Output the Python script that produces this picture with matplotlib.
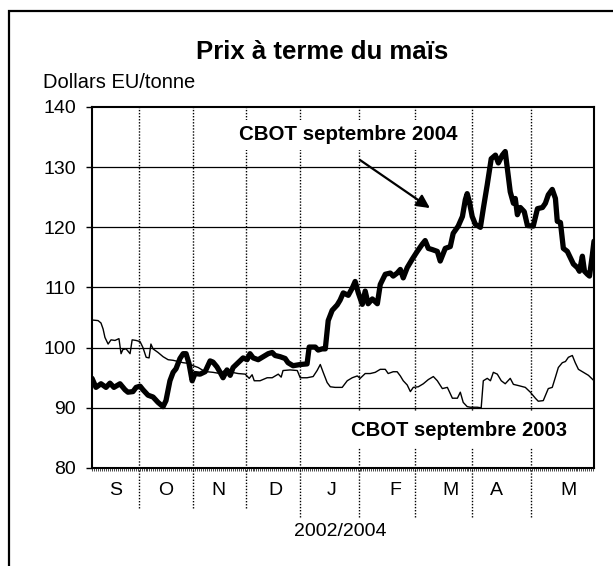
import matplotlib.pyplot as plt
from matplotlib.patches import Rectangle
import numpy as np

plt.rcParams['font.family'] = ['Liberation Sans', 'DejaVu Sans']

# x is a trading-day index from early September 2003 (0) to early June 2004 (190)
t_2004 = [0, 1.5, 3.4, 5.3, 6.8, 8.3, 10.6, 12.5, 13.6, 15.5, 16.7, 18.2, 19.3, 21.2,
          23.1, 25, 26.9, 28, 29.5, 30.7, 31.8, 33.3, 34.5, 35.6, 36.7, 37.9, 39, 40.9,
          42.8, 44.7, 45.8, 47.3, 48.5, 49.6, 51.1, 52.3, 53.4, 55.3, 57.2, 58.7, 59.8,
          61, 62.9, 64.8, 66.7, 68.2, 69.3, 71.2, 73.1, 74.2, 76.1, 78.8, 81.4, 82.2,
          84.5, 85.6, 87.1, 88.3, 89.4, 90.9, 92.8, 93.9, 95.1, 97, 98.5, 99.6, 100.8,
          102.3, 103.4, 104.5, 106.1, 108, 109.1, 111, 112.9, 114, 115.5, 116.7, 117.8,
          119.3, 121.2, 123.1, 125, 126.1, 127.3, 128.8, 130.7, 131.8, 133.7, 135.6,
          136.7, 138.6, 140.2, 141.3, 142, 142.8, 143.9, 145.1, 147, 148.1, 149.6,
          151.1, 152.7, 153.8, 155.3, 156.4, 157.2, 158.3, 159.5, 160.2, 161, 162.1,
          163.6, 164.8, 167, 168.6, 170.5, 171.6, 172.7, 174.2, 175.4, 176.1, 177.3,
          178.4, 179.9, 181.1, 182.2, 183.7, 184.5, 185.6, 186.4, 187.5, 188.3, 189.4,
          190]
cbot_2004 = [94.9, 93.4, 94.0, 93.4, 94.1, 93.4, 94.0, 93.0, 92.6, 92.7, 93.4, 93.6, 93.0,
             92.1, 91.8, 90.9, 90.2, 91.2, 94.5, 95.9, 96.5, 98.2, 99.0, 99.0, 97.4, 94.5,
             95.7, 95.6, 96.0, 97.8, 97.6, 96.8, 95.9, 95.0, 96.3, 95.4, 96.7, 97.5, 98.3,
             98.0, 99.0, 98.3, 98.0, 98.5, 99.0, 99.2, 98.7, 98.5, 98.2, 97.5, 97.0, 97.2,
             97.3, 100.1, 100.1, 99.6, 99.8, 99.8, 104.5, 106.2, 107.1, 107.9, 109.1, 108.7,
             109.9, 111.0, 109.1, 107.2, 109.4, 107.3, 108.1, 107.3, 110.5, 112.2, 112.4,
             111.9, 112.4, 113.0, 111.6, 113.3, 114.7, 116.0, 117.2, 117.8, 116.5, 116.3,
             116.0, 114.4, 116.5, 116.8, 119.0, 120.2, 121.8, 124.6, 125.6, 124.3, 121.8,
             120.5, 120.0, 123.1, 127.1, 131.4, 132.0, 130.7, 132.0, 132.6, 129.8, 125.9,
             124.0, 124.8, 122.1, 123.3, 122.6, 120.3, 120.2, 123.1, 123.3, 124.0, 125.4,
             126.3, 124.8, 121.0, 120.8, 116.5, 116.0, 114.9, 113.9, 113.3, 112.7, 115.2,
             112.7, 112.2, 111.9, 115.5, 117.7]

t_2003 = [0, 2.3, 3.4, 4.2, 4.9, 6.1, 7.2, 8.7, 10.2, 11, 11.7, 12.9, 14.4, 15.2, 16.7,
          18.2, 19.3, 20.5, 21.6, 22.3, 23.1, 25, 26.9, 28.8, 30.7, 32.6, 34.5, 36.4,
          38.3, 40.2, 41.7, 43.6, 45.8, 48.5, 51.1, 53, 55.3, 58, 59.5, 60.6, 61.4, 63.6,
          66.3, 68.2, 70.5, 71.6, 72.3, 75, 77.7, 78.8, 81.4, 83.7, 85.2, 86.4, 87.5, 89,
          90.2, 92, 94.7, 96.6, 98.5, 100.4, 101.5, 103.4, 105.3, 107.2, 109.1, 111,
          112.1, 114, 115.5, 116.7, 117.8, 119.3, 120.5, 121.6, 123.5, 125.4, 127.3,
          129.2, 130.7, 132.6, 134.5, 136.4, 138.3, 139.4, 140.5, 142, 143.2, 145.8,
          147.3, 148.1, 149.6, 150.8, 151.9, 153.4, 154.9, 156.4, 158.3, 159.5, 161.4,
          164, 165.9, 167.8, 168.9, 170.8, 172.7, 174.2, 175.4, 176.5, 178, 179.2, 180.3,
          181.8, 182.9, 184.1, 186, 187.9, 190]
cbot_2003 = [104.6, 104.5, 104.1, 103.1, 101.7, 100.6, 101.3, 101.2, 101.5, 99.0, 99.7,
             99.8, 99.0, 101.3, 101.2, 101.0, 100.0, 98.4, 98.3, 100.6, 99.8, 99.2, 98.5,
             98.0, 97.9, 97.7, 97.5, 97.4, 97.0, 96.7, 96.3, 96.0, 95.9, 95.7, 96.5, 95.9,
             95.7, 95.6, 94.9, 95.5, 94.5, 94.5, 95.0, 95.0, 95.6, 95.1, 96.2, 96.3, 96.2,
             95.0, 95.0, 95.2, 96.2, 97.2, 95.9, 94.2, 93.5, 93.4, 93.4, 94.5, 95.0, 95.3,
             94.9, 95.7, 95.7, 95.9, 96.4, 96.4, 95.7, 96.0, 96.0, 95.3, 94.5, 93.8, 92.7,
             93.4, 93.5, 94.0, 94.7, 95.2, 94.5, 93.2, 93.4, 91.6, 91.6, 92.6, 90.9, 90.2,
             90.1, 90.1, 90.0, 94.5, 94.9, 94.5, 95.9, 95.6, 94.5, 94.0, 94.9, 93.9, 93.7,
             93.4, 92.6, 91.6, 91.1, 91.2, 93.2, 93.4, 95.1, 96.7, 97.5, 97.7, 98.4, 98.7,
             97.5, 96.4, 95.9, 95.4, 94.5]

month_edges = [17.8, 38.4, 58.1, 78.9, 100.9, 122.1, 144.0, 166.0]
month_labels = ['S', 'O', 'N', 'D', 'J', 'F', 'M', 'A', 'M']
month_label_pos = [9.1, 28.0, 47.7, 69.3, 90.5, 114.7, 135.5, 152.9, 180.5]

fig = plt.figure(figsize=(6.13, 5.66), dpi=100)
W, H = 613, 566

# outer frame (runs off the right and bottom edges, as in the original)
fig.patches.append(Rectangle((9 / W, -0.05), 1.2, 1 - 11 / H + 0.05, transform=fig.transFigure,
                             fill=False, edgecolor='black', linewidth=1.6))

ax = fig.add_axes([92 / W, 1 - 468 / H, 502 / W, 361 / H])
ax.set_xlim(0, 190)
ax.set_ylim(80, 140)

for yv in range(90, 140, 10):
    ax.axhline(yv, color='black', linewidth=0.9, zorder=1)

# dotted month separators, extending below the axis
xtr = ax.get_xaxis_transform()
for i, xe in enumerate(month_edges):
    low = -0.11 if i < 3 else -0.135
    ax.plot([xe, xe], [low, 1], transform=xtr, clip_on=False, color='black',
            linewidth=1.0, linestyle=(0, (1, 1.2)), zorder=1)

ax.plot(t_2003, cbot_2003, color='black', linewidth=1.0, zorder=3)
ax.plot(t_2004, cbot_2004, color='black', linewidth=3.8, solid_joinstyle='round',
        solid_capstyle='round', zorder=4)

ax.text(96.9, 135.4, 'CBOT septembre 2004', ha='center', va='center', fontsize=14.8,
        fontweight='bold', zorder=5,
        bbox=dict(facecolor='white', edgecolor='none', pad=4))
ax.annotate('', xy=(127.9, 123.2), xytext=(101.4, 131.2),
            arrowprops=dict(arrowstyle='-|>', color='black', lw=1.6, mutation_scale=20,
                            shrinkA=0, shrinkB=0), zorder=5)
ax.text(138.9, 86.3, 'CBOT septembre 2003', ha='center', va='center', fontsize=14.6,
        fontweight='bold', zorder=5,
        bbox=dict(facecolor='white', edgecolor='none', pad=6))

for sp in ax.spines.values():
    sp.set_linewidth(1.5)
    sp.set_zorder(6)

ax.set_yticks(range(80, 141, 10))
ax.tick_params(axis='y', direction='out', length=4.5, width=1.0, pad=7, labelsize=14)
ax.set_xticks([])
ax.set_xticks(np.arange(0, 190.5, 0.75), minor=True)
ax.tick_params(axis='x', which='minor', direction='out', length=2.2, width=0.5)

for lab, xp in zip(month_labels, month_label_pos):
    ax.text(xp, -0.061, lab, transform=xtr, ha='center', va='center', fontsize=14)
ax.text(93.9, -0.177, '2002/2004', transform=xtr, ha='center', va='center', fontsize=14)

fig.text(322 / W, 1 - 52 / H, 'Prix à terme du maïs', ha='center', va='center',
         fontsize=18.5, fontweight='bold')
fig.text(43 / W, 1 - 83 / H, 'Dollars EU/tonne', ha='left', va='center', fontsize=14.5)

fig.savefig('out.png', dpi=100)
